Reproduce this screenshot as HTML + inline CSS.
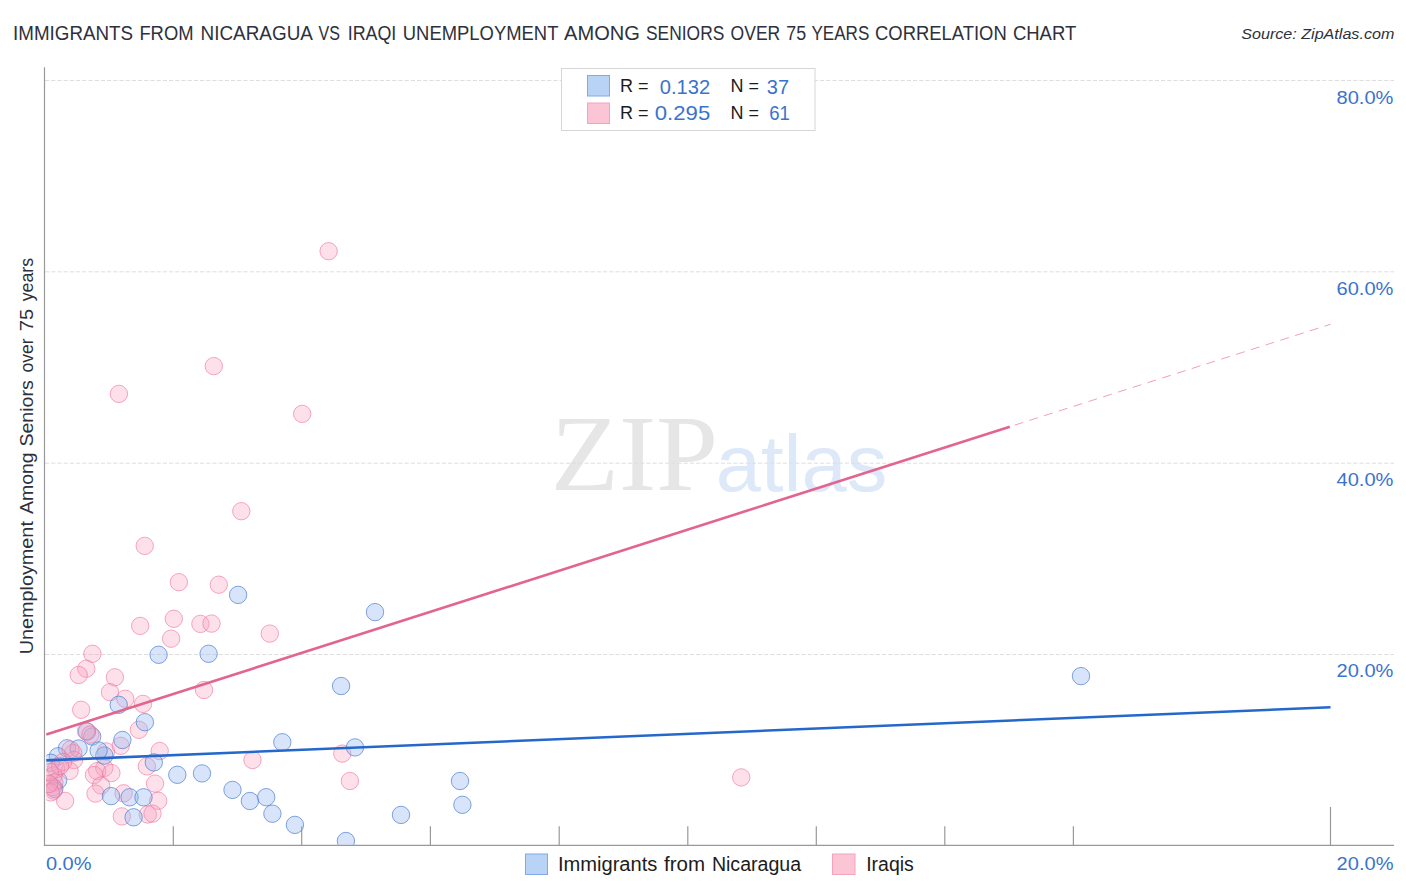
<!DOCTYPE html>
<html><head><meta charset="utf-8"><title>chart</title>
<style>
html,body{margin:0;padding:0;background:#fff;}
body{width:1406px;height:892px;overflow:hidden;position:relative;font-family:"Liberation Sans",sans-serif;}
svg{position:absolute;left:0;top:0;}
text{font-family:"Liberation Sans",sans-serif;}
.serif{font-family:"Liberation Serif",serif;}
</style></head><body>
<svg width="1406" height="892" viewBox="0 0 1406 892">
<defs><clipPath id="plot"><rect x="46.3" y="60" width="1350" height="784.7"/></clipPath></defs>
<rect width="1406" height="892" fill="#ffffff"/>
<!-- watermark -->
<text class="serif" x="550.7" y="489.9" font-size="109" fill="#e6e6e6" textLength="167.5" lengthAdjust="spacingAndGlyphs">ZIP</text>
<text x="715.8" y="491" font-size="79" fill="#dde8f9" textLength="171.5" lengthAdjust="spacingAndGlyphs">atlas</text>
<!-- grid -->
<line x1="45" x2="1394" y1="80.5" y2="80.5" stroke="#dedede" stroke-width="1" stroke-dasharray="4.2 2"/>
<line x1="45" x2="1394" y1="271.8" y2="271.8" stroke="#dedede" stroke-width="1" stroke-dasharray="4.2 2"/>
<line x1="45" x2="1394" y1="463.2" y2="463.2" stroke="#dedede" stroke-width="1" stroke-dasharray="4.2 2"/>
<line x1="45" x2="1394" y1="654.5" y2="654.5" stroke="#dedede" stroke-width="1" stroke-dasharray="4.2 2"/>
<!-- axes -->
<line x1="44.5" x2="44.5" y1="67.2" y2="846" stroke="#999" stroke-width="1.2"/>
<line x1="43.9" x2="1394" y1="845.4" y2="845.4" stroke="#999" stroke-width="1.3"/>
<line x1="173.3" x2="173.3" y1="826.2" y2="845.4" stroke="#999" stroke-width="1.2"/>
<line x1="301.7" x2="301.7" y1="826.2" y2="845.4" stroke="#999" stroke-width="1.2"/>
<line x1="430.4" x2="430.4" y1="826.2" y2="845.4" stroke="#999" stroke-width="1.2"/>
<line x1="559.2" x2="559.2" y1="826.2" y2="845.4" stroke="#999" stroke-width="1.2"/>
<line x1="687.8" x2="687.8" y1="826.2" y2="845.4" stroke="#999" stroke-width="1.2"/>
<line x1="816.3" x2="816.3" y1="826.2" y2="845.4" stroke="#999" stroke-width="1.2"/>
<line x1="944.8" x2="944.8" y1="826.2" y2="845.4" stroke="#999" stroke-width="1.2"/>
<line x1="1073.4" x2="1073.4" y1="826.2" y2="845.4" stroke="#999" stroke-width="1.2"/>
<line x1="1330.5" x2="1330.5" y1="807" y2="845.4" stroke="#999" stroke-width="1.2"/>
<!-- points -->
<g clip-path="url(#plot)">
<circle cx="92.2" cy="736.5" r="8.7" fill="rgba(150,185,240,0.38)" stroke="rgba(72,122,210,0.68)" stroke-width="1"/>
<circle cx="87" cy="731.5" r="8.7" fill="rgba(150,185,240,0.38)" stroke="rgba(72,122,210,0.68)" stroke-width="1"/>
<circle cx="67" cy="748.3" r="8.7" fill="rgba(150,185,240,0.38)" stroke="rgba(72,122,210,0.68)" stroke-width="1"/>
<circle cx="78.6" cy="748.5" r="8.7" fill="rgba(150,185,240,0.38)" stroke="rgba(72,122,210,0.68)" stroke-width="1"/>
<circle cx="57.9" cy="756.3" r="8.7" fill="rgba(150,185,240,0.38)" stroke="rgba(72,122,210,0.68)" stroke-width="1"/>
<circle cx="50.8" cy="762.8" r="8.7" fill="rgba(150,185,240,0.38)" stroke="rgba(72,122,210,0.68)" stroke-width="1"/>
<circle cx="58.2" cy="780.3" r="8.7" fill="rgba(150,185,240,0.38)" stroke="rgba(72,122,210,0.68)" stroke-width="1"/>
<circle cx="54.3" cy="788.8" r="8.7" fill="rgba(150,185,240,0.38)" stroke="rgba(72,122,210,0.68)" stroke-width="1"/>
<circle cx="328.6" cy="251.2" r="8.7" fill="rgba(248,160,190,0.32)" stroke="rgba(236,110,150,0.58)" stroke-width="1"/>
<circle cx="213.8" cy="366.1" r="8.7" fill="rgba(248,160,190,0.32)" stroke="rgba(236,110,150,0.58)" stroke-width="1"/>
<circle cx="118.9" cy="393.9" r="8.7" fill="rgba(248,160,190,0.32)" stroke="rgba(236,110,150,0.58)" stroke-width="1"/>
<circle cx="302.2" cy="413.9" r="8.7" fill="rgba(248,160,190,0.32)" stroke="rgba(236,110,150,0.58)" stroke-width="1"/>
<circle cx="241.3" cy="511.2" r="8.7" fill="rgba(248,160,190,0.32)" stroke="rgba(236,110,150,0.58)" stroke-width="1"/>
<circle cx="144.7" cy="545.9" r="8.7" fill="rgba(248,160,190,0.32)" stroke="rgba(236,110,150,0.58)" stroke-width="1"/>
<circle cx="178.9" cy="582.2" r="8.7" fill="rgba(248,160,190,0.32)" stroke="rgba(236,110,150,0.58)" stroke-width="1"/>
<circle cx="218.8" cy="584.7" r="8.7" fill="rgba(248,160,190,0.32)" stroke="rgba(236,110,150,0.58)" stroke-width="1"/>
<circle cx="173.8" cy="618.8" r="8.7" fill="rgba(248,160,190,0.32)" stroke="rgba(236,110,150,0.58)" stroke-width="1"/>
<circle cx="140.2" cy="625.9" r="8.7" fill="rgba(248,160,190,0.32)" stroke="rgba(236,110,150,0.58)" stroke-width="1"/>
<circle cx="200.4" cy="623.9" r="8.7" fill="rgba(248,160,190,0.32)" stroke="rgba(236,110,150,0.58)" stroke-width="1"/>
<circle cx="211.5" cy="623.6" r="8.7" fill="rgba(248,160,190,0.32)" stroke="rgba(236,110,150,0.58)" stroke-width="1"/>
<circle cx="171.1" cy="638.7" r="8.7" fill="rgba(248,160,190,0.32)" stroke="rgba(236,110,150,0.58)" stroke-width="1"/>
<circle cx="269.8" cy="633.6" r="8.7" fill="rgba(248,160,190,0.32)" stroke="rgba(236,110,150,0.58)" stroke-width="1"/>
<circle cx="92.4" cy="653.8" r="8.7" fill="rgba(248,160,190,0.32)" stroke="rgba(236,110,150,0.58)" stroke-width="1"/>
<circle cx="86.3" cy="668.7" r="8.7" fill="rgba(248,160,190,0.32)" stroke="rgba(236,110,150,0.58)" stroke-width="1"/>
<circle cx="78.7" cy="675" r="8.7" fill="rgba(248,160,190,0.32)" stroke="rgba(236,110,150,0.58)" stroke-width="1"/>
<circle cx="114.9" cy="677.3" r="8.7" fill="rgba(248,160,190,0.32)" stroke="rgba(236,110,150,0.58)" stroke-width="1"/>
<circle cx="110" cy="692.2" r="8.7" fill="rgba(248,160,190,0.32)" stroke="rgba(236,110,150,0.58)" stroke-width="1"/>
<circle cx="125.3" cy="698.8" r="8.7" fill="rgba(248,160,190,0.32)" stroke="rgba(236,110,150,0.58)" stroke-width="1"/>
<circle cx="143" cy="703.9" r="8.7" fill="rgba(248,160,190,0.32)" stroke="rgba(236,110,150,0.58)" stroke-width="1"/>
<circle cx="204" cy="690" r="8.7" fill="rgba(248,160,190,0.32)" stroke="rgba(236,110,150,0.58)" stroke-width="1"/>
<circle cx="81.2" cy="709.8" r="8.7" fill="rgba(248,160,190,0.32)" stroke="rgba(236,110,150,0.58)" stroke-width="1"/>
<circle cx="86" cy="731.2" r="8.7" fill="rgba(248,160,190,0.32)" stroke="rgba(236,110,150,0.58)" stroke-width="1"/>
<circle cx="90.4" cy="734.6" r="8.7" fill="rgba(248,160,190,0.32)" stroke="rgba(236,110,150,0.58)" stroke-width="1"/>
<circle cx="138.9" cy="729.8" r="8.7" fill="rgba(248,160,190,0.32)" stroke="rgba(236,110,150,0.58)" stroke-width="1"/>
<circle cx="120.7" cy="745.8" r="8.7" fill="rgba(248,160,190,0.32)" stroke="rgba(236,110,150,0.58)" stroke-width="1"/>
<circle cx="106" cy="751.4" r="8.7" fill="rgba(248,160,190,0.32)" stroke="rgba(236,110,150,0.58)" stroke-width="1"/>
<circle cx="159.7" cy="751" r="8.7" fill="rgba(248,160,190,0.32)" stroke="rgba(236,110,150,0.58)" stroke-width="1"/>
<circle cx="73.2" cy="753" r="8.7" fill="rgba(248,160,190,0.32)" stroke="rgba(236,110,150,0.58)" stroke-width="1"/>
<circle cx="74" cy="760" r="8.7" fill="rgba(248,160,190,0.32)" stroke="rgba(236,110,150,0.58)" stroke-width="1"/>
<circle cx="70.5" cy="749.5" r="8.7" fill="rgba(248,160,190,0.32)" stroke="rgba(236,110,150,0.58)" stroke-width="1"/>
<circle cx="69.6" cy="770.9" r="8.7" fill="rgba(248,160,190,0.32)" stroke="rgba(236,110,150,0.58)" stroke-width="1"/>
<circle cx="56.1" cy="769.1" r="8.7" fill="rgba(248,160,190,0.32)" stroke="rgba(236,110,150,0.58)" stroke-width="1"/>
<circle cx="104.3" cy="767.9" r="8.7" fill="rgba(248,160,190,0.32)" stroke="rgba(236,110,150,0.58)" stroke-width="1"/>
<circle cx="97.2" cy="771.1" r="8.7" fill="rgba(248,160,190,0.32)" stroke="rgba(236,110,150,0.58)" stroke-width="1"/>
<circle cx="111.4" cy="773" r="8.7" fill="rgba(248,160,190,0.32)" stroke="rgba(236,110,150,0.58)" stroke-width="1"/>
<circle cx="94" cy="775" r="8.7" fill="rgba(248,160,190,0.32)" stroke="rgba(236,110,150,0.58)" stroke-width="1"/>
<circle cx="146.9" cy="766.4" r="8.7" fill="rgba(248,160,190,0.32)" stroke="rgba(236,110,150,0.58)" stroke-width="1"/>
<circle cx="101.1" cy="785.5" r="8.7" fill="rgba(248,160,190,0.32)" stroke="rgba(236,110,150,0.58)" stroke-width="1"/>
<circle cx="95.5" cy="793.6" r="8.7" fill="rgba(248,160,190,0.32)" stroke="rgba(236,110,150,0.58)" stroke-width="1"/>
<circle cx="123.6" cy="793.3" r="8.7" fill="rgba(248,160,190,0.32)" stroke="rgba(236,110,150,0.58)" stroke-width="1"/>
<circle cx="155" cy="783.6" r="8.7" fill="rgba(248,160,190,0.32)" stroke="rgba(236,110,150,0.58)" stroke-width="1"/>
<circle cx="158.2" cy="800.8" r="8.7" fill="rgba(248,160,190,0.32)" stroke="rgba(236,110,150,0.58)" stroke-width="1"/>
<circle cx="65.1" cy="800.9" r="8.7" fill="rgba(248,160,190,0.32)" stroke="rgba(236,110,150,0.58)" stroke-width="1"/>
<circle cx="53.5" cy="775.4" r="8.7" fill="rgba(248,160,190,0.32)" stroke="rgba(236,110,150,0.58)" stroke-width="1"/>
<circle cx="54.3" cy="782.5" r="8.7" fill="rgba(248,160,190,0.32)" stroke="rgba(236,110,150,0.58)" stroke-width="1"/>
<circle cx="52.6" cy="787" r="8.7" fill="rgba(248,160,190,0.32)" stroke="rgba(236,110,150,0.58)" stroke-width="1"/>
<circle cx="53.5" cy="790.6" r="8.7" fill="rgba(248,160,190,0.32)" stroke="rgba(236,110,150,0.58)" stroke-width="1"/>
<circle cx="50.8" cy="792.4" r="8.7" fill="rgba(248,160,190,0.32)" stroke="rgba(236,110,150,0.58)" stroke-width="1"/>
<circle cx="121.8" cy="816.4" r="8.7" fill="rgba(248,160,190,0.32)" stroke="rgba(236,110,150,0.58)" stroke-width="1"/>
<circle cx="147.8" cy="814.5" r="8.7" fill="rgba(248,160,190,0.32)" stroke="rgba(236,110,150,0.58)" stroke-width="1"/>
<circle cx="152.5" cy="813.6" r="8.7" fill="rgba(248,160,190,0.32)" stroke="rgba(236,110,150,0.58)" stroke-width="1"/>
<circle cx="252.5" cy="760" r="8.7" fill="rgba(248,160,190,0.32)" stroke="rgba(236,110,150,0.58)" stroke-width="1"/>
<circle cx="342.3" cy="753.6" r="8.7" fill="rgba(248,160,190,0.32)" stroke="rgba(236,110,150,0.58)" stroke-width="1"/>
<circle cx="349.9" cy="781" r="8.7" fill="rgba(248,160,190,0.32)" stroke="rgba(236,110,150,0.58)" stroke-width="1"/>
<circle cx="741.2" cy="777.4" r="8.7" fill="rgba(248,160,190,0.32)" stroke="rgba(236,110,150,0.58)" stroke-width="1"/>
<circle cx="63" cy="762" r="8.7" fill="rgba(248,160,190,0.32)" stroke="rgba(236,110,150,0.58)" stroke-width="1"/>
<circle cx="60" cy="766" r="8.7" fill="rgba(248,160,190,0.32)" stroke="rgba(236,110,150,0.58)" stroke-width="1"/>
<circle cx="50" cy="772" r="8.7" fill="rgba(248,160,190,0.32)" stroke="rgba(236,110,150,0.58)" stroke-width="1"/>
<circle cx="49" cy="784" r="8.7" fill="rgba(248,160,190,0.32)" stroke="rgba(236,110,150,0.58)" stroke-width="1"/>
<circle cx="238.1" cy="594.9" r="8.7" fill="rgba(150,185,240,0.38)" stroke="rgba(72,122,210,0.68)" stroke-width="1"/>
<circle cx="375" cy="612.1" r="8.7" fill="rgba(150,185,240,0.38)" stroke="rgba(72,122,210,0.68)" stroke-width="1"/>
<circle cx="158.6" cy="654.8" r="8.7" fill="rgba(150,185,240,0.38)" stroke="rgba(72,122,210,0.68)" stroke-width="1"/>
<circle cx="208.6" cy="653.8" r="8.7" fill="rgba(150,185,240,0.38)" stroke="rgba(72,122,210,0.68)" stroke-width="1"/>
<circle cx="341.1" cy="686" r="8.7" fill="rgba(150,185,240,0.38)" stroke="rgba(72,122,210,0.68)" stroke-width="1"/>
<circle cx="1081" cy="676.1" r="8.7" fill="rgba(150,185,240,0.38)" stroke="rgba(72,122,210,0.68)" stroke-width="1"/>
<circle cx="118.7" cy="704.8" r="8.7" fill="rgba(150,185,240,0.38)" stroke="rgba(72,122,210,0.68)" stroke-width="1"/>
<circle cx="144.9" cy="722.2" r="8.7" fill="rgba(150,185,240,0.38)" stroke="rgba(72,122,210,0.68)" stroke-width="1"/>
<circle cx="122.4" cy="740" r="8.7" fill="rgba(150,185,240,0.38)" stroke="rgba(72,122,210,0.68)" stroke-width="1"/>
<circle cx="104.3" cy="755.6" r="8.7" fill="rgba(150,185,240,0.38)" stroke="rgba(72,122,210,0.68)" stroke-width="1"/>
<circle cx="98.6" cy="750.5" r="8.7" fill="rgba(150,185,240,0.38)" stroke="rgba(72,122,210,0.68)" stroke-width="1"/>
<circle cx="153.8" cy="762.4" r="8.7" fill="rgba(150,185,240,0.38)" stroke="rgba(72,122,210,0.68)" stroke-width="1"/>
<circle cx="177.3" cy="774.8" r="8.7" fill="rgba(150,185,240,0.38)" stroke="rgba(72,122,210,0.68)" stroke-width="1"/>
<circle cx="202" cy="773.4" r="8.7" fill="rgba(150,185,240,0.38)" stroke="rgba(72,122,210,0.68)" stroke-width="1"/>
<circle cx="232.5" cy="789.9" r="8.7" fill="rgba(150,185,240,0.38)" stroke="rgba(72,122,210,0.68)" stroke-width="1"/>
<circle cx="111" cy="796.1" r="8.7" fill="rgba(150,185,240,0.38)" stroke="rgba(72,122,210,0.68)" stroke-width="1"/>
<circle cx="129.6" cy="797.3" r="8.7" fill="rgba(150,185,240,0.38)" stroke="rgba(72,122,210,0.68)" stroke-width="1"/>
<circle cx="143.5" cy="797.3" r="8.7" fill="rgba(150,185,240,0.38)" stroke="rgba(72,122,210,0.68)" stroke-width="1"/>
<circle cx="133.6" cy="817.3" r="8.7" fill="rgba(150,185,240,0.38)" stroke="rgba(72,122,210,0.68)" stroke-width="1"/>
<circle cx="282.3" cy="742.2" r="8.7" fill="rgba(150,185,240,0.38)" stroke="rgba(72,122,210,0.68)" stroke-width="1"/>
<circle cx="355" cy="747.4" r="8.7" fill="rgba(150,185,240,0.38)" stroke="rgba(72,122,210,0.68)" stroke-width="1"/>
<circle cx="249.9" cy="801" r="8.7" fill="rgba(150,185,240,0.38)" stroke="rgba(72,122,210,0.68)" stroke-width="1"/>
<circle cx="266.2" cy="797.2" r="8.7" fill="rgba(150,185,240,0.38)" stroke="rgba(72,122,210,0.68)" stroke-width="1"/>
<circle cx="272.4" cy="813.7" r="8.7" fill="rgba(150,185,240,0.38)" stroke="rgba(72,122,210,0.68)" stroke-width="1"/>
<circle cx="294.9" cy="824.9" r="8.7" fill="rgba(150,185,240,0.38)" stroke="rgba(72,122,210,0.68)" stroke-width="1"/>
<circle cx="345.9" cy="841" r="8.7" fill="rgba(150,185,240,0.38)" stroke="rgba(72,122,210,0.68)" stroke-width="1"/>
<circle cx="401" cy="814.9" r="8.7" fill="rgba(150,185,240,0.38)" stroke="rgba(72,122,210,0.68)" stroke-width="1"/>
<circle cx="460" cy="781" r="8.7" fill="rgba(150,185,240,0.38)" stroke="rgba(72,122,210,0.68)" stroke-width="1"/>
<circle cx="462.4" cy="804.8" r="8.7" fill="rgba(150,185,240,0.38)" stroke="rgba(72,122,210,0.68)" stroke-width="1"/>
</g>
<!-- trend lines -->
<line x1="46.3" y1="760.4" x2="1330.5" y2="707.3" stroke="#2568cc" stroke-width="2.6"/>
<line x1="46.3" y1="734.6" x2="1009.8" y2="426.7" stroke="#e2648f" stroke-width="2.6"/>
<line x1="1009.8" y1="426.7" x2="1330.7" y2="324.2" stroke="#f0a0b8" stroke-width="1" stroke-dasharray="9 6.5" stroke-dashoffset="-5"/>
<!-- top legend -->
<rect x="561.5" y="68.5" width="253.5" height="62" fill="#ffffff" stroke="#d6d6d6" stroke-width="1"/>
<rect x="587.5" y="75.5" width="22" height="20.5" fill="#b9d3f7" stroke="#7fa9e8" stroke-width="1"/>
<rect x="587.5" y="103" width="22" height="20.5" fill="#fcc5d6" stroke="#f4a3bd" stroke-width="1"/>
<text x="620" y="92.4" font-size="18" fill="#1c1c1c">R =</text>
<text x="659.8" y="93.7" font-size="21" fill="#3a73cc" textLength="50.4" lengthAdjust="spacingAndGlyphs">0.132</text>
<text x="730.5" y="92.4" font-size="18" fill="#1c1c1c">N =</text>
<text x="766.8" y="93.7" font-size="21" fill="#3a73cc" textLength="22.2" lengthAdjust="spacingAndGlyphs">37</text>
<text x="620" y="119.4" font-size="18" fill="#1c1c1c">R =</text>
<text x="654.8" y="120.4" font-size="21" fill="#3a73cc" textLength="55.4" lengthAdjust="spacingAndGlyphs">0.295</text>
<text x="730.5" y="119.4" font-size="18" fill="#1c1c1c">N =</text>
<text x="769.3" y="120.4" font-size="21" fill="#3a73cc" textLength="20.6" lengthAdjust="spacingAndGlyphs">61</text>
<!-- title -->
<text x="13.1" y="39.9" font-size="19.5" fill="#2e313b" textLength="120.0" lengthAdjust="spacingAndGlyphs">IMMIGRANTS</text>
<text x="139.4" y="39.9" font-size="19.5" fill="#2e313b" textLength="54.1" lengthAdjust="spacingAndGlyphs">FROM</text>
<text x="200.6" y="39.9" font-size="19.5" fill="#2e313b" textLength="112.3" lengthAdjust="spacingAndGlyphs">NICARAGUA</text>
<text x="318.6" y="39.9" font-size="19.5" fill="#2e313b" textLength="21.4" lengthAdjust="spacingAndGlyphs">VS</text>
<text x="347.7" y="39.9" font-size="19.5" fill="#2e313b" textLength="48.6" lengthAdjust="spacingAndGlyphs">IRAQI</text>
<text x="402.8" y="39.9" font-size="19.5" fill="#2e313b" textLength="155.6" lengthAdjust="spacingAndGlyphs">UNEMPLOYMENT</text>
<text x="564.1" y="39.9" font-size="19.5" fill="#2e313b" textLength="75.7" lengthAdjust="spacingAndGlyphs">AMONG</text>
<text x="646" y="39.9" font-size="19.5" fill="#2e313b" textLength="78.3" lengthAdjust="spacingAndGlyphs">SENIORS</text>
<text x="730.6" y="39.9" font-size="19.5" fill="#2e313b" textLength="49.6" lengthAdjust="spacingAndGlyphs">OVER</text>
<text x="786.2" y="39.9" font-size="19.5" fill="#2e313b" textLength="19.9" lengthAdjust="spacingAndGlyphs">75</text>
<text x="811.5" y="39.9" font-size="19.5" fill="#2e313b" textLength="57.8" lengthAdjust="spacingAndGlyphs">YEARS</text>
<text x="875" y="39.9" font-size="19.5" fill="#2e313b" textLength="131.7" lengthAdjust="spacingAndGlyphs">CORRELATION</text>
<text x="1012.9" y="39.9" font-size="19.5" fill="#2e313b" textLength="63.3" lengthAdjust="spacingAndGlyphs">CHART</text>
<text x="1394.3" y="39" font-size="14.4" font-style="italic" fill="#2e313b" text-anchor="end" textLength="153" lengthAdjust="spacingAndGlyphs">Source: ZipAtlas.com</text>
<!-- y labels -->
<text x="1336.5" y="103.8" font-size="19" fill="#3a73cc" textLength="56.9" lengthAdjust="spacingAndGlyphs">80.0%</text>
<text x="1336.5" y="295" font-size="19" fill="#3a73cc" textLength="56.9" lengthAdjust="spacingAndGlyphs">60.0%</text>
<text x="1336.5" y="486" font-size="19" fill="#3a73cc" textLength="56.9" lengthAdjust="spacingAndGlyphs">40.0%</text>
<text x="1336.5" y="677.4" font-size="19" fill="#3a73cc" textLength="56.9" lengthAdjust="spacingAndGlyphs">20.0%</text>
<!-- x labels -->
<text x="45.9" y="869.6" font-size="19" fill="#3a73cc" textLength="45.6" lengthAdjust="spacingAndGlyphs">0.0%</text>
<text x="1336.6" y="869.8" font-size="19" fill="#3a73cc" textLength="56.9" lengthAdjust="spacingAndGlyphs">20.0%</text>
<!-- y axis title -->
<g transform="translate(33.4,654.3) rotate(-90)">
<text x="0" y="0" font-size="19.1" fill="#2e313b" textLength="133.2" lengthAdjust="spacingAndGlyphs">Unemployment</text>
<text x="140.3" y="0" font-size="19.1" fill="#2e313b" textLength="61.6" lengthAdjust="spacingAndGlyphs">Among</text>
<text x="207.7" y="0" font-size="19.1" fill="#2e313b" textLength="66.4" lengthAdjust="spacingAndGlyphs">Seniors</text>
<text x="281.9" y="0" font-size="19.1" fill="#2e313b" textLength="34.1" lengthAdjust="spacingAndGlyphs">over</text>
<text x="323.1" y="0" font-size="19.1" fill="#2e313b" textLength="22.3" lengthAdjust="spacingAndGlyphs">75</text>
<text x="353" y="0" font-size="19.1" fill="#2e313b" textLength="43.5" lengthAdjust="spacingAndGlyphs">years</text>
</g>
<!-- bottom legend -->
<rect x="525.5" y="854" width="22" height="20.5" fill="#b9d3f7" stroke="#7fa9e8" stroke-width="1"/>
<text x="557.9" y="870.7" font-size="20" fill="#1c1c1c" textLength="99.5" lengthAdjust="spacingAndGlyphs">Immigrants</text>
<text x="664" y="870.7" font-size="20" fill="#1c1c1c" textLength="41" lengthAdjust="spacingAndGlyphs">from</text>
<text x="711.9" y="870.7" font-size="20" fill="#1c1c1c" textLength="89.2" lengthAdjust="spacingAndGlyphs">Nicaragua</text>
<rect x="832.5" y="854" width="22.5" height="20.5" fill="#fcc5d6" stroke="#f4a3bd" stroke-width="1"/>
<text x="866.2" y="870.7" font-size="20" fill="#1c1c1c" textLength="47.6" lengthAdjust="spacingAndGlyphs">Iraqis</text>
</svg>
</body></html>
